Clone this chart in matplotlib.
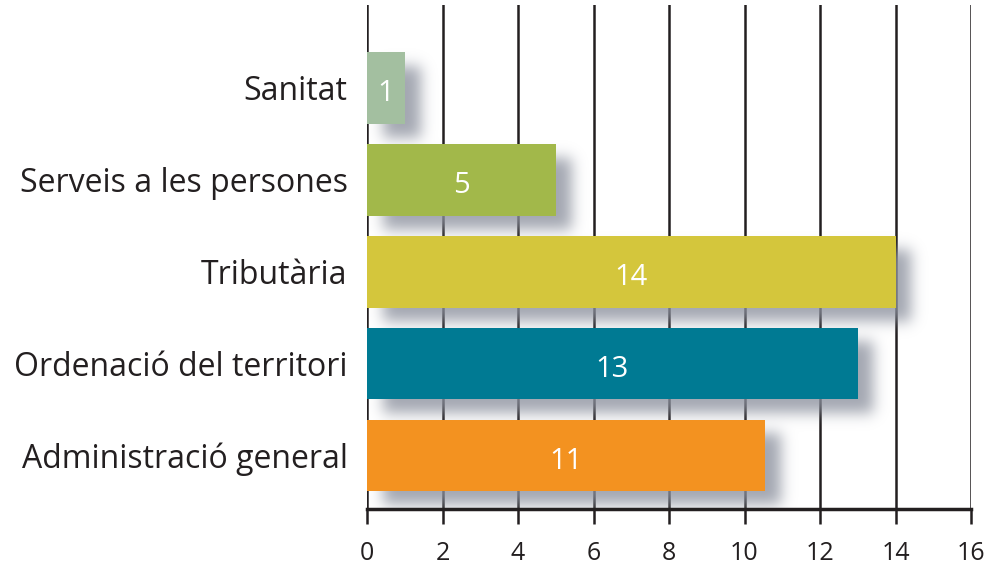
import numpy as np
import matplotlib
matplotlib.use("Agg")
import matplotlib.pyplot as plt
from math import erf

categories = ["Administració general", "Ordenació del territori", "Tributària",
              "Serveis a les persones", "Sanitat"]
values = [10.55, 13, 14, 5, 1]
value_labels = ["11", "13", "14", "5", "1"]
colors = ["#f39220", "#007a93", "#d4c63c", "#a2b84a", "#a3bfa0"]
xticks = [0, 2, 4, 6, 8, 10, 12, 14, 16]

plt.rcParams['font.family'] = ['Open Sans', 'DejaVu Sans']

fig = plt.figure(figsize=(9.89, 5.65), dpi=100)
ax = fig.add_axes([367/989, 1-509/565, 604/989, 504/565])
ax.set_xlim(0, 16)
ax.set_ylim(-0.582, 4.903)
h = 0.78

# grid lines
for t in xticks:
    ax.axvline(t, color="#231f20", lw=1.8, zorder=1)

# soft drop shadow
verf = np.vectorize(erf)
xs = np.linspace(0, 16, 800)
ys = np.linspace(-0.582, 4.903, 500)
X, Y = np.meshgrid(xs, ys)
sx, sy = 0.26, 0.11
dx, dy = 0.42, -0.15
alpha = np.zeros_like(X)
for i, v in enumerate(values):
    x0, x1 = 0 + dx, v + dx
    y0, y1 = i - h/2 + dy, i + h/2 + dy
    fx = 0.5*(verf((xs - x0)/sx) - verf((xs - x1)/sx))
    fy = 0.5*(verf((ys - y0)/sy) - verf((ys - y1)/sy))
    a = np.outer(fy, fx)
    alpha = 1 - (1 - alpha)*(1 - a)
img = np.zeros(X.shape + (4,))
img[..., 0] = 0.55
img[..., 1] = 0.57
img[..., 2] = 0.62
img[..., 3] = alpha*0.8
ax.imshow(img, extent=(0, 16, -0.582, 4.903), origin="lower", aspect="auto",
          zorder=2, interpolation="bilinear")

ypos = np.arange(len(categories))
ax.barh(ypos, values, height=h, color=colors, zorder=3)
for i, (v, lab) in enumerate(zip(values, value_labels)):
    ax.text(v/2, i - 0.06, lab, color="white", ha="center", va="center",
            fontsize=21, zorder=4)

ax.set_yticks(ypos)
ax.set_yticklabels(categories, fontsize=23, color="#231f20")
ax.tick_params(axis="y", length=0, pad=14)
ax.set_xticks(xticks)
ax.set_xticklabels([str(t) for t in xticks], fontsize=18, color="#231f20")
ax.tick_params(axis="x", length=11, width=1.8, color="#231f20", pad=12,
               direction="out")
for s in ["top", "right", "left"]:
    ax.spines[s].set_visible(False)
ax.spines["bottom"].set_linewidth(2.5)
ax.spines["bottom"].set_color("#231f20")
ax.spines["bottom"].set_zorder(5)

fig.savefig("out.png", dpi=100)
